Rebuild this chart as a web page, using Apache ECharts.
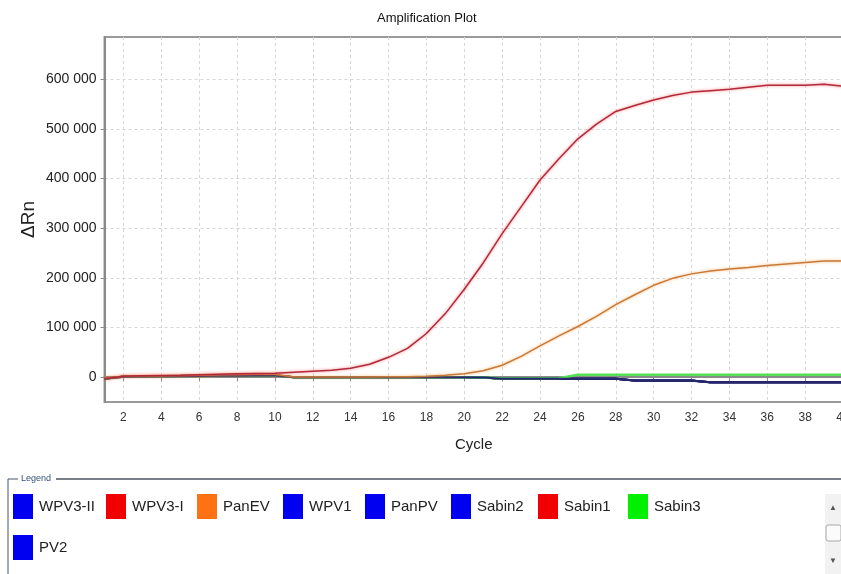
<!DOCTYPE html>
<html><head><meta charset="utf-8">
<script src="https://cdn.jsdelivr.net/npm/echarts@6/dist/echarts.min.js"></script>
<style>html,body{margin:0;padding:0;background:#fff}#c{width:841px;height:574px}</style>
</head><body><div id="c"></div>
<script>
const cycles = [1,2,3,4,5,6,7,8,9,10,11,12,13,14,15,16,17,18,19,20,21,22,23,24,25,26,27,28,29,30,31,32,33,34,35,36,37,38,39,40];
const xTickValues = [2,4,6,8,10,12,14,16,18,20,22,24,26,28,30,32,34,36,38,40];
const yTickValues = [0,100000,200000,300000,400000,500000,600000];

const sabin1 = [-3000,2000,3000,3500,4000,5000,6000,7000,7500,8000,10000,12000,14000,18000,26000,40000,58000,88000,128000,177000,230000,289000,343000,397000,440000,480000,510000,535000,547000,558000,567000,574000,577000,580000,584000,588000,588000,588000,590000,586000];
const panEV = [-2000,2000,3000,3000,3500,4000,5000,5500,6000,6000,500,500,500,500,500,800,1000,2000,4000,7000,13000,24000,42000,63000,83000,102000,123000,146000,166000,185000,199000,208000,214000,218000,221000,225000,228000,231000,234000,234000];
const wpv3I = [-3000,2000,2500,3000,3000,3500,4000,4000,4500,4500,0,0,0,0,0,0,0,0,0,0,-500,-3000,-3000,-3000,-3000,-3000,-3000,-3000,-6500,-6500,-6500,-6500,-10000,-10000,-10000,-10000,-10000,-10000,-10000,-10000];
const wpv3II = [-3000,1500,2000,2500,2500,3000,3000,3500,3500,4000,0,0,0,0,0,0,0,0,0,0,-500,-3000,-3000,-3000,-3000,-3000,-3000,-3000,-6500,-6500,-6500,-6500,-10500,-10500,-10500,-10500,-10500,-10500,-10500,-10500];
const wpv1 = [-2500,1000,1500,2000,2000,2500,3000,3000,3000,3500,0,0,0,0,0,0,0,0,0,0,-500,-3000,-3000,-3000,-3000,-3000,-3000,-3000,-7000,-7000,-7000,-7000,-10000,-10000,-10000,-10000,-10000,-10000,-10000,-10000];
const panPV = [-3000,1000,2000,2000,2500,2500,3000,3000,3500,3500,0,0,0,0,0,0,0,0,0,0,-500,-3000,-3000,-3000,-3000,-3000,-3000,-3000,-6500,-6500,-6500,-6500,-10000,-10000,-10000,-10000,-10000,-10000,-10000,-10000];
const sabin2 = [-3000,1000,2000,2000,2500,2500,3000,3000,3500,3500,0,0,0,0,0,0,0,0,0,0,-500,-3000,-3000,-3000,-3000,-3000,-3000,-3000,-6500,-6500,-6500,-6500,-10000,-10000,-10000,-10000,-10000,-10000,-10000,-10000];
const pv2 = [-3000,1500,2000,2500,2500,3000,3000,3000,3500,3500,0,0,0,0,0,0,0,0,0,0,-500,-3000,-3000,-3000,-3000,-3000,-3000,-3000,-6500,-6500,-6500,-6500,-10000,-10000,-10000,-10000,-10000,-10000,-10000,-10000];
const sabin3 = [-3000,1000,2000,2000,2500,2500,3000,3000,3500,3500,0,0,0,0,0,0,0,0,0,0,-500,-2500,-2500,-2500,-2000,5000,5000,5000,5000,5000,5000,5000,5000,5000,5000,5000,5000,5000,5000,5000];

const legendNames = ['WPV3-II','WPV3-I','PanEV','WPV1','PanPV','Sabin2','Sabin1','Sabin3','PV2'];
const legendColors = ['#0000f0','#f00000','#ff7214','#0000f0','#0000f0','#0000f0','#f00000','#00f000','#0000f0'];

const FONT = "'Liberation Sans',Arial,sans-serif";

function pairs(vals){ return cycles.map((c,i)=>[c, vals[i]]); }
function line(name, vals, color, width, glow){
  const ls = {color: color, width: width};
  if (glow){ ls.shadowColor = glow; ls.shadowBlur = 3; }
  return {name: name, type: 'line', data: pairs(vals), symbol: 'none', silent: true,
          lineStyle: ls, itemStyle: {color: color}, emphasis: {disabled: true}};
}

const blue = '#26266e';
const series = [
  line('WPV3-I', wpv3I, '#b02a3c', 1.5),
  line('WPV3-II', wpv3II, blue, 2),
  line('WPV1', wpv1, blue, 2),
  line('PanPV', panPV, blue, 2),
  line('PV2', pv2, blue, 2),
  line('Sabin3', sabin3, '#55e055', 2.5),
  line('Sabin2', sabin2, blue, 2),
  line('PanEV', panEV, '#c87a3a', 1.5, 'rgba(255,150,50,0.7)'),
  line('Sabin1', sabin1, '#b02a3c', 1.5, 'rgba(255,70,70,0.7)')
];

const legendPos = [[13,494],[106,494],[197,494],[283,494],[365,494],[451,494],[538,494],[628,494],[13,535]];
const legends = legendNames.map((n,i)=>({
  left: legendPos[i][0], top: legendPos[i][1], padding: 0, orient: 'horizontal',
  icon: 'rect', itemWidth: 20, itemHeight: 25, selectedMode: false,
  data: [{name: n, itemStyle: {color: legendColors[i], borderWidth: 0}}],
  textStyle: {fontFamily: FONT, fontSize: 15, color: '#222', padding: [0,0,0,1]}
}));

function fmtY(v){
  if (v === 0) return '0';
  const s = String(v);
  return s.slice(0, s.length-3) + ' ' + s.slice(-3);
}

const chart = echarts.init(document.getElementById('c'), null, {renderer: 'canvas'});
chart.setOption({
  animation: false,
  backgroundColor: '#ffffff',
  title: {text: 'Amplification Plot', left: 377, top: 12, padding: 0,
          textStyle: {fontFamily: FONT, fontSize: 13, fontWeight: 'normal', color: '#111'}},
  legend: legends,
  grid: {left: 104.5, right: -2, top: 37, bottom: 172, outerBoundsMode: 'none', containLabel: false,
         show: true, borderColor: '#9a9a9a', borderWidth: 2, backgroundColor: '#fff'},
  xAxis: {
    type: 'value', min: 1, max: 40,
    name: 'Cycle', nameLocation: 'middle', nameGap: 35,
    nameTextStyle: {fontFamily: FONT, fontSize: 15, color: '#222'},
    axisLine: {lineStyle: {color: '#8a8a8a', width: 2}},
    axisTick: {show: true, length: 4, lineStyle: {color: '#8a8a8a'}, customValues: xTickValues},
    axisLabel: {customValues: xTickValues, margin: 10, fontFamily: FONT, fontSize: 12, color: '#333'},
    splitLine: {show: true, lineStyle: {color: '#d6d6d6', type: [3,3], width: 1}}
  },
  yAxis: {
    type: 'value', min: -50000, max: 685000,
    name: 'ΔRn', nameLocation: 'middle', nameGap: 66, nameMoveOverlap: false,
    nameTextStyle: {fontFamily: FONT, fontSize: 19, color: '#222'},
    axisLine: {show: true, lineStyle: {color: '#8a8a8a', width: 2}},
    axisTick: {show: true, length: 4, lineStyle: {color: '#8a8a8a'}, customValues: yTickValues},
    axisLabel: {customValues: yTickValues, margin: 8, fontFamily: FONT, fontSize: 14, color: '#222', formatter: fmtY},
    splitLine: {show: true, lineStyle: {color: '#d6d6d6', type: [3,3], width: 1}}
  },
  graphic: [
    {type: 'polyline', shape: {points: [[8,574],[8,479],[18,479]]}, style: {stroke: '#4b5563', lineWidth: 1, fill: null}, silent: true},
    {type: 'line', shape: {x1: 56, y1: 479, x2: 841, y2: 479}, style: {stroke: '#4b5563', lineWidth: 1.5}, silent: true},
    {type: 'text', x: 21, y: 479, style: {text: 'Legend', fontFamily: FONT, fontSize: 9, fill: '#35507a', verticalAlign: 'middle'}, silent: true},
    {type: 'rect', shape: {x: 825, y: 494, width: 16, height: 80}, style: {fill: '#f2f2f2'}, silent: true},
    {type: 'rect', shape: {x: 826, y: 525, width: 15, height: 16, r: 2}, style: {fill: '#fbfbfb', stroke: '#a8a8a8', lineWidth: 1}, silent: true},
    {type: 'text', x: 833, y: 508, style: {text: '▲', fontSize: 8, fill: '#555', align: 'center', verticalAlign: 'middle'}, silent: true},
    {type: 'text', x: 833, y: 561, style: {text: '▼', fontSize: 8, fill: '#555', align: 'center', verticalAlign: 'middle'}, silent: true}
  ],
  series: series
});
</script></body></html>
